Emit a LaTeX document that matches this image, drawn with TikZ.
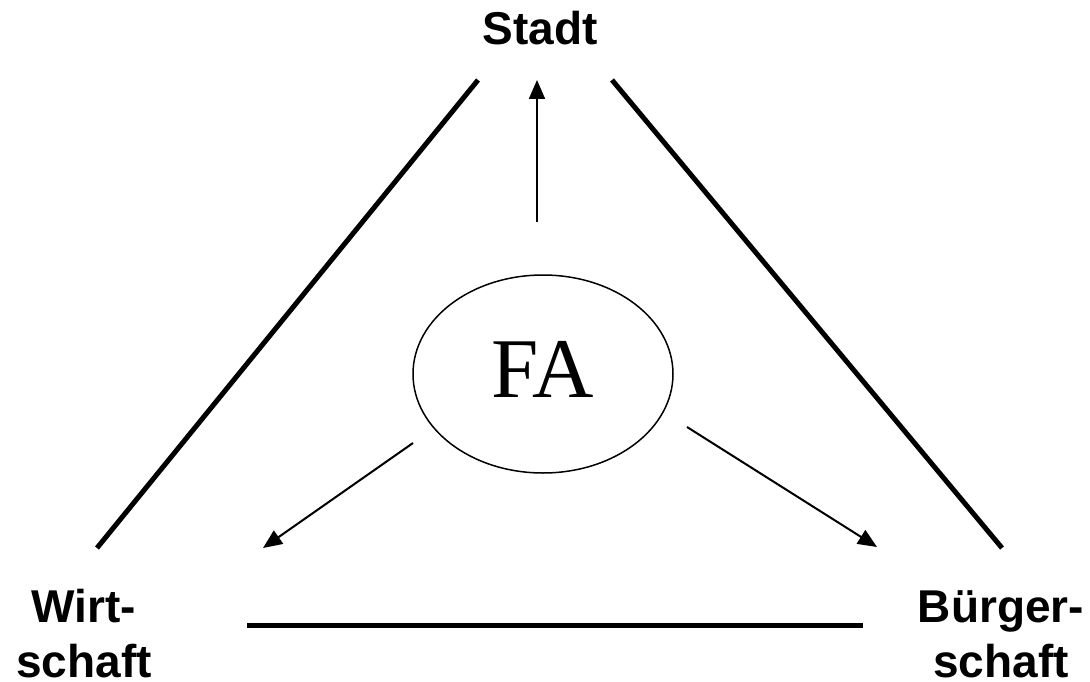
\documentclass[tikz,border=0pt]{standalone}
\usepackage{fontspec}
\setmainfont{Liberation Serif}
\newfontfamily\labfont{Liberation Sans}
\usetikzlibrary{arrows.meta}
\begin{document}
\begin{tikzpicture}[x=1pt,y=-1pt,
  lab/.style={font=\labfont\bfseries\fontsize{46}{55}\selectfont, inner sep=0pt, align=center},
  thickline/.style={line width=5pt},
  thinarrow/.style={line width=2pt, -{Triangle[length=19pt,width=16pt]}},
  faell/.style={draw, line width=1.5pt}]
\useasboundingbox (0,0) rectangle (1090,682);
\node[lab, anchor=base] (stadt) at (540,45) {Stadt};
\node[lab, anchor=base] (wirt) at (84,677) {Wirt-\\schaft};
\node[lab, anchor=base] (buerger) at (1001,677) {Bürger-\\schaft};
\draw[faell] (543,374) ellipse [x radius=130, y radius=99];
\node[font=\fontsize{85}{90}\selectfont, inner sep=0pt, anchor=base] (fa) at (543,397) {FA};
% thick triangle sides
\coordinate (l1) at (97,548); \coordinate (l2) at (478,80);
\coordinate (r1) at (612,80); \coordinate (r2) at (1002,548);
\coordinate (b1) at (247,625); \coordinate (b2) at (863,625);
\draw[thickline] (l1) -- (l2);
\draw[thickline] (r1) -- (r2);
\draw[thickline] (b1) -- (b2);
% arrows
\coordinate (up0) at (537,222); \coordinate (up1) at (537,80);
\coordinate (ld0) at (413,443); \coordinate (ld1) at (263,548);
\coordinate (rd0) at (687,427); \coordinate (rd1) at (877,547);
\draw[thinarrow] (up0) -- (up1);
\draw[thinarrow] (ld0) -- (ld1);
\draw[thinarrow] (rd0) -- (rd1);
\end{tikzpicture}
\end{document}
